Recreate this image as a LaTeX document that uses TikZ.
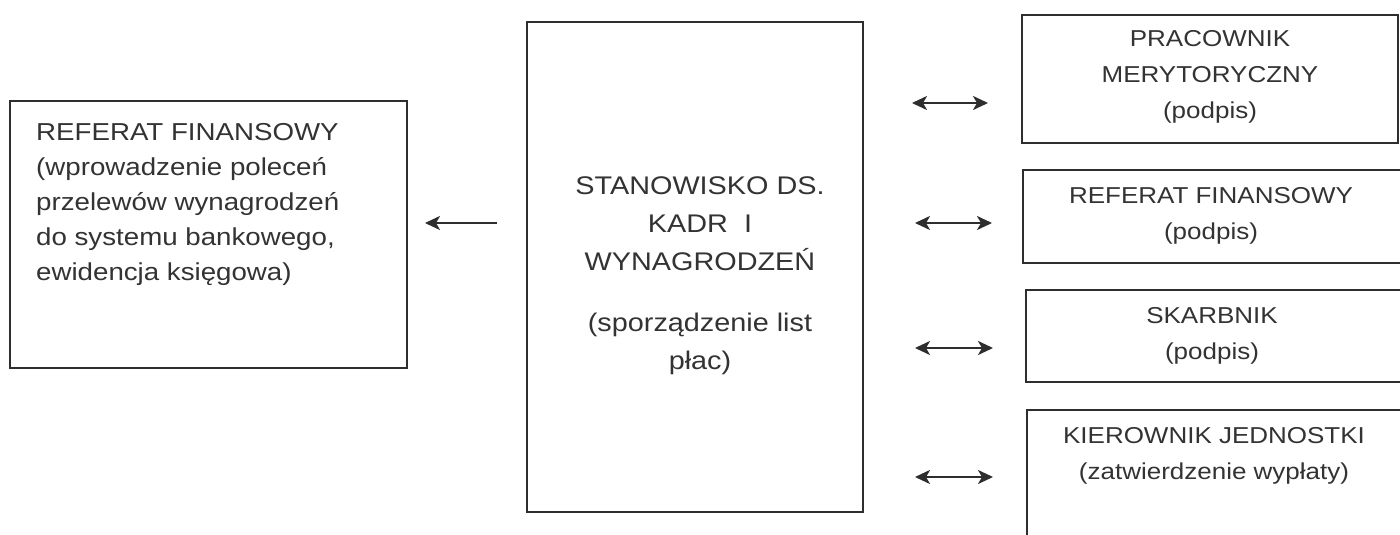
\documentclass[tikz,border=0pt]{standalone}
\usepackage{fontspec}
\setmainfont{Liberation Sans}[FakeStretch=1.13]
\usetikzlibrary{arrows.meta}
\definecolor{ink}{HTML}{2E2E2E}
\definecolor{txt}{HTML}{333333}
\tikzset{
  box/.style={draw=ink, line width=2.1pt, rectangle, inner sep=0pt},
  lefttxt/.style={inner sep=0pt, text=txt, align=left, font=\fontsize{24.5}{35}\selectfont},
  midtxt/.style={inner sep=0pt, text=txt, align=center, font=\fontsize{25.5}{38}\selectfont},
  righttxt/.style={inner sep=0pt, text=txt, align=center, font=\fontsize{23}{36}\selectfont},
  tip/.style={Stealth[length=15pt,width=14pt,inset=4pt]},
  dblarrow/.style={draw=ink, line width=2.2pt, {Stealth[length=15pt,width=14pt,inset=4pt]}-{Stealth[length=15pt,width=14pt,inset=4pt]}},
  sglarrow/.style={draw=ink, line width=2.2pt, -{Stealth[length=15pt,width=14pt,inset=4pt]}}
}
\begin{document}
\begin{tikzpicture}[x=1pt,y=-1pt]
\useasboundingbox (0,0) rectangle (1400,535);
\clip (0,0) rectangle (1400,535);
\fill[white] (0,0) rectangle (1400,535);
% left box
\node[box, minimum width=397pt, minimum height=267pt] (lb) at (208.5,234.5) {};
\node[lefttxt, anchor=north west] (lbt) at (36,123) {REFERAT FINANSOWY\\(wprowadzenie poleceń\\przelewów wynagrodzeń\\do systemu bankowego,\\ewidencja księgowa)};
% center box
\node[box, minimum width=336pt, minimum height=490pt] (cb) at (695,267) {};
\node[midtxt, anchor=north] (cbt1) at (700,176) {STANOWISKO DS.\\KADR\ \ I\\WYNAGRODZEŃ};
\node[midtxt, anchor=north] (cbt2) at (700,313) {(sporządzenie list\\płac)};
% right boxes
\node[box, minimum width=376pt, minimum height=128pt] (r1) at (1210,79) {};
\node[righttxt, anchor=north] (r1t) at (1210,30) {PRACOWNIK\\MERYTORYCZNY\\(podpis)};
\node[box, minimum width=397pt, minimum height=93pt] (r2) at (1221.5,216.5) {};
\node[righttxt, anchor=north] (r2t) at (1211,187) {REFERAT FINANSOWY\\(podpis)};
\node[box, minimum width=394pt, minimum height=92pt] (r3) at (1223,336) {};
\node[righttxt, anchor=north] (r3t) at (1212,307) {SKARBNIK\\(podpis)};
\node[box, minimum width=393pt, minimum height=150pt] (r4) at (1223.5,485) {};
\node[righttxt, anchor=north] (r4t) at (1214,427) {KIEROWNIK JEDNOSTKI\\(zatwierdzenie wypłaty)};
% arrows
\coordinate (la1) at (497,223);
\coordinate (la2) at (425,223);
\draw[sglarrow] (la1) -- (la2);
\coordinate (a1l) at (912,103); \coordinate (a1r) at (988,103);
\coordinate (a2l) at (915,223); \coordinate (a2r) at (992,223);
\coordinate (a3l) at (915,348); \coordinate (a3r) at (993,348);
\coordinate (a4l) at (915,477); \coordinate (a4r) at (993,477);
\draw[dblarrow] (a1l) -- (a1r);
\draw[dblarrow] (a2l) -- (a2r);
\draw[dblarrow] (a3l) -- (a3r);
\draw[dblarrow] (a4l) -- (a4r);
\end{tikzpicture}
\end{document}
